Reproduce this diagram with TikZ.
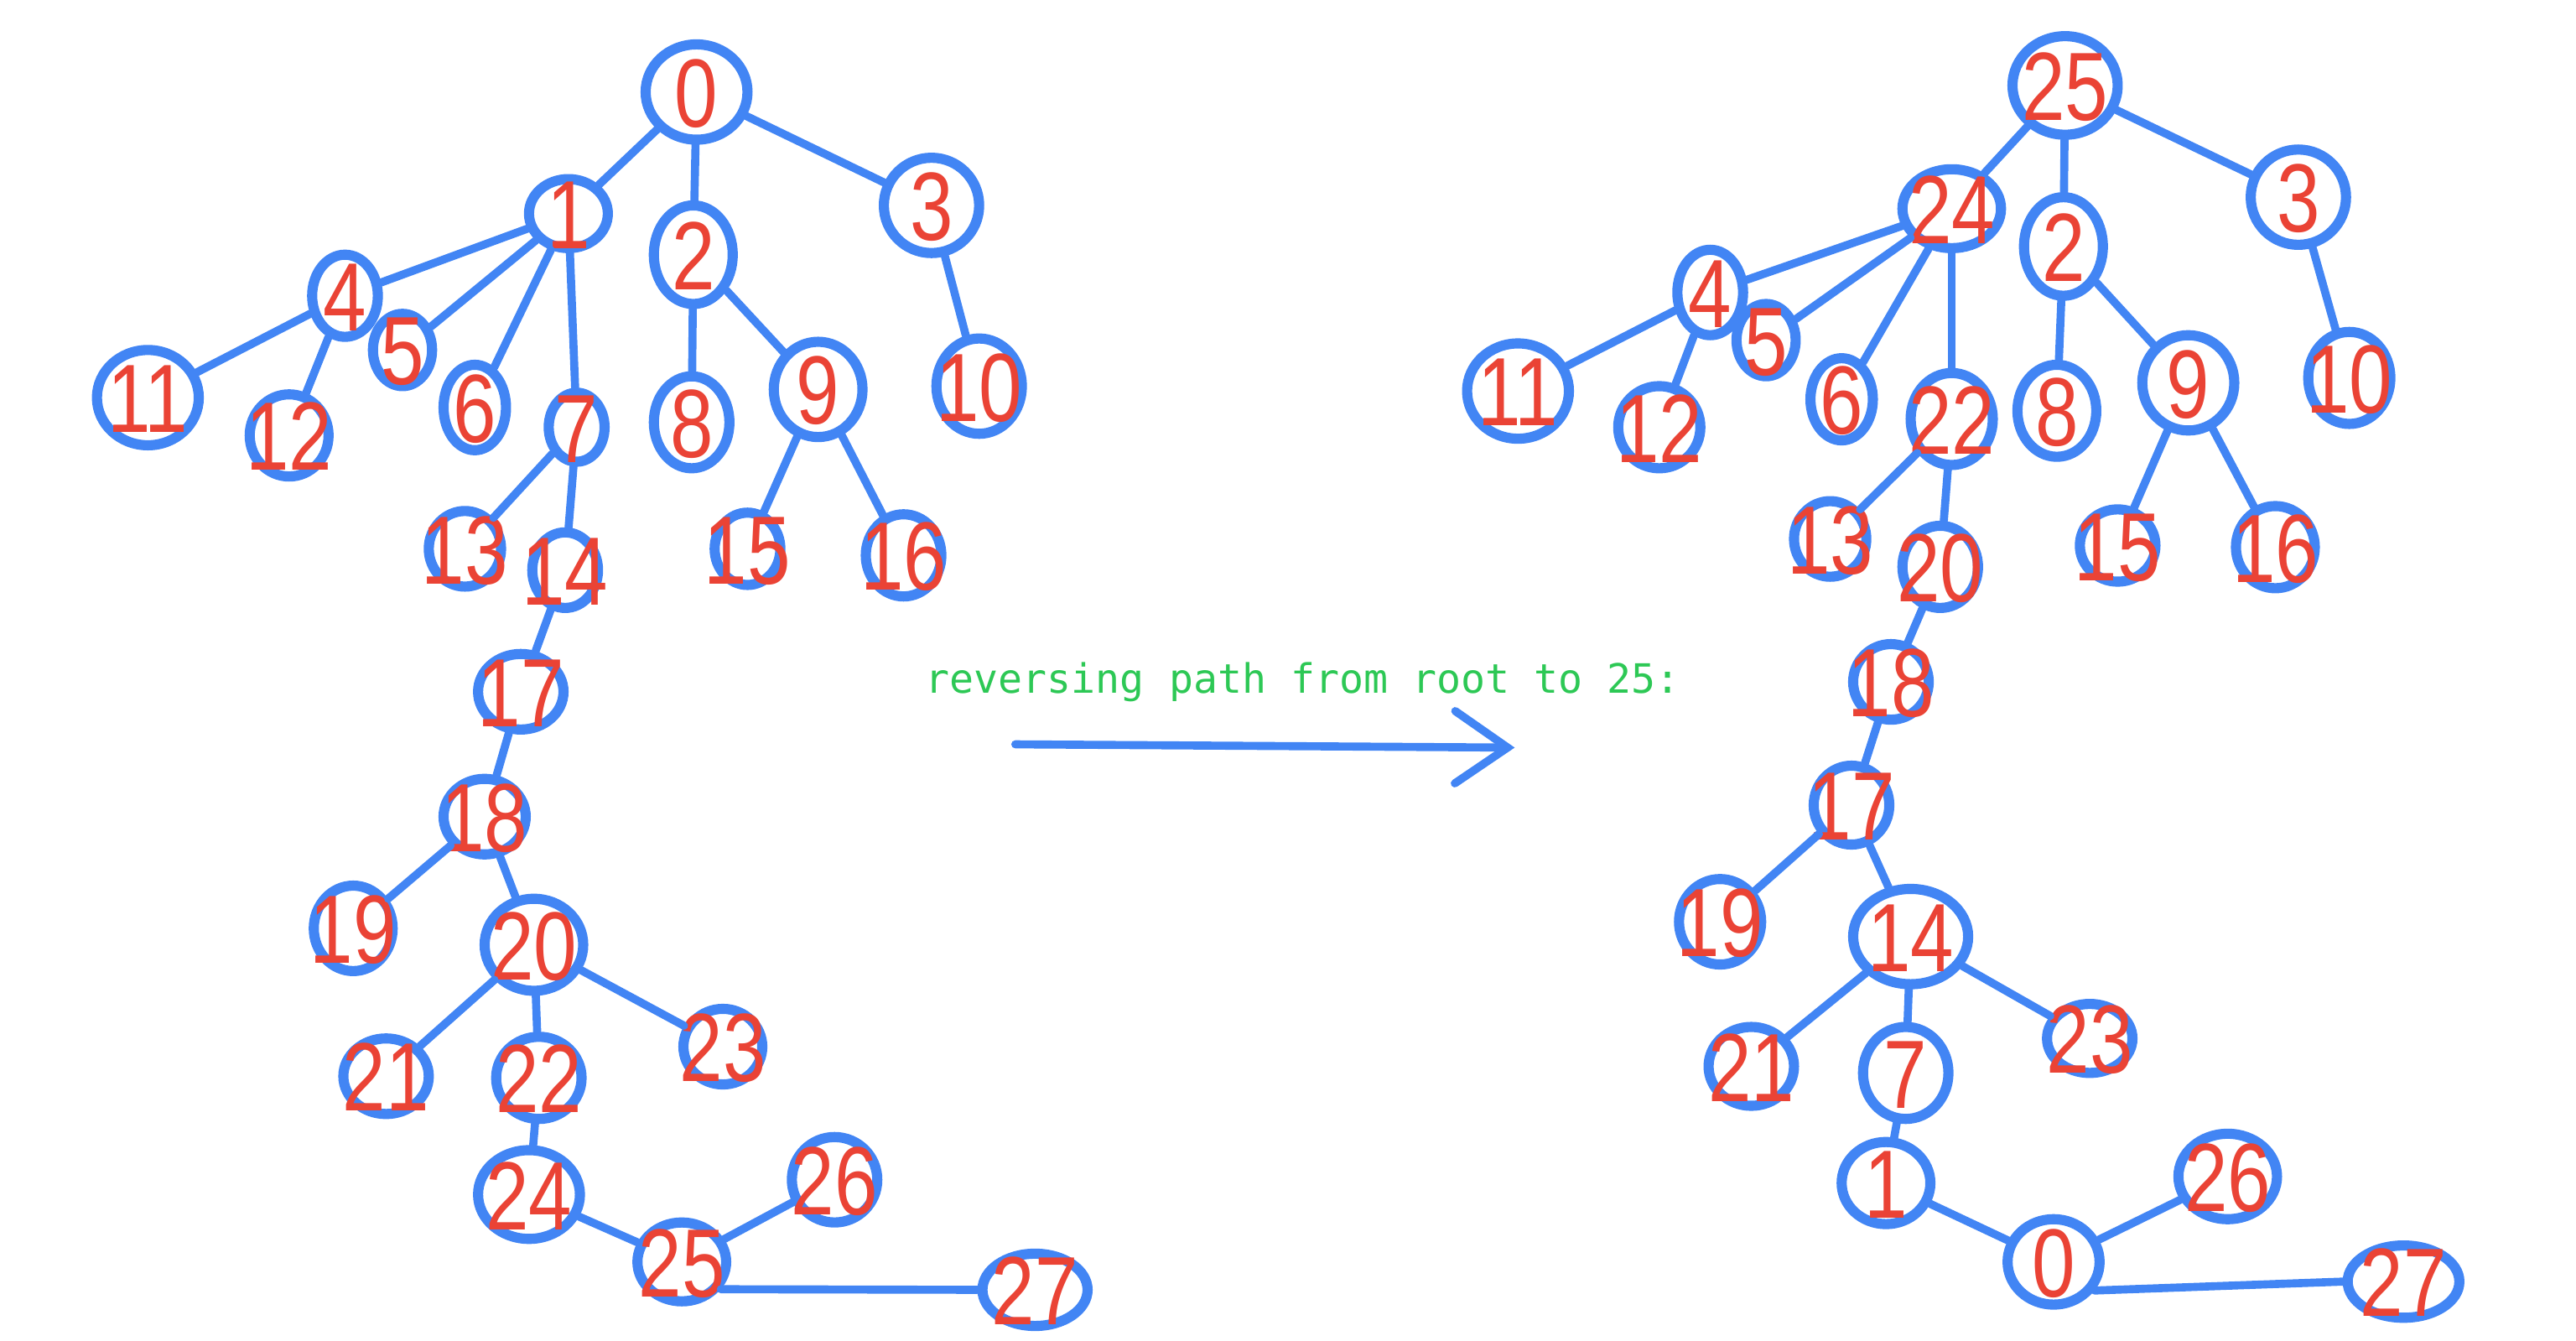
\documentclass[tikz,border=0pt]{standalone}
\usepackage{fontspec}
\usetikzlibrary{arrows.meta,shapes.geometric}
\newfontfamily\numfont[FakeStretch=0.8]{Liberation Sans}
\newfontfamily\notefont{DejaVu Sans Mono}
\definecolor{penBlue}{RGB}{66,133,244}
\definecolor{penRed}{RGB}{234,67,53}
\definecolor{penGreen}{RGB}{45,200,85}
% digits hang over the drawn rings, so they take no room
\newcommand\numtxt[1]{\makebox[0pt]{\raisebox{-.36em}[0pt][0pt]{#1}}}

\begin{document}
\begin{tikzpicture}[x=0.25mm,y=-0.25mm]
  \tikzset{vtx/.style={ellipse,draw=penBlue,line width=4.4pt,inner sep=0pt,text=penRed,
      font=\numfont\fontsize{42}{44}\selectfont},
    link/.style={draw=penBlue,line width=3.5pt,line cap=round}}
  \useasboundingbox (0,0) rectangle (1568,816);
  % tree before: root 0
  \foreach \n/\x/\y/\w/\h in {0/424/56/62/58, 1/346/130/48/42, 2/422/155/48/60,
      3/567/125/58/58, 4/210/180/40/50, 5/245/213/36/44, 6/289/248/38/52,
      7/351/260/34/42, 8/421/257/46/56, 9/498/237/54/58, 10/596/235/52/58,
      11/90/242/62/58, 12/176/265/48/50, 13/283/334/44/46, 14/344/347/40/46,
      15/455/334/40/44, 16/550/338/46/50, 17/317/421/52/46, 18/295/497/50/46,
      19/215/565/48/52, 20/325/575/60/56, 21/235/655/52/46, 22/328/656/52/50,
      23/440/637/48/46, 24/322/727/62/54, 25/415/768/54/48, 26/508/718/52/52,
      27/630/785/64/44}
    \node[vtx,minimum width=\w*0.25mm,minimum height=\h*0.25mm] (a\n) at (\x,\y) {\numtxt{\n}};
  \foreach \p/\c in {0/1, 0/2, 0/3, 1/4, 1/5, 1/6, 1/7, 2/8, 2/9, 3/10, 4/11, 4/12,
      7/13, 7/14, 9/15, 9/16, 14/17, 17/18, 18/19, 18/20, 20/21, 20/22, 20/23,
      22/24, 24/25, 25/26}
    \draw[link] (a\p) -- (a\c);
  \draw[link] (a25.-35) -- (a27.west);
  % tree after: root 25
  \foreach \n/\x/\y/\w/\h in {25/1257/52/64/60, 24/1188/127/60/48, 2/1256/150/48/60,
      3/1399/120/58/58, 4/1041/178/40/52, 5/1075/207/36/44, 6/1121/243/38/50,
      22/1188/255/50/56, 8/1252/250/48/56, 9/1332/233/56/58, 10/1430/230/50/56,
      11/924/238/62/58, 12/1010/260/50/50, 13/1114/328/44/46, 20/1181/345/46/50,
      15/1289/332/46/44, 16/1385/333/48/50, 18/1151/415/46/46, 17/1127/490/46/48,
      19/1047/561/50/52, 14/1163/570/70/58, 21/1066/649/52/48, 7/1160/653/52/56,
      23/1272/632/52/42, 1/1148/720/54/50, 0/1250/768/56/52, 26/1356/716/60/52,
      27/1463/780/68/44}
    \node[vtx,minimum width=\w*0.25mm,minimum height=\h*0.25mm] (b\n) at (\x,\y) {\numtxt{\n}};
  \foreach \p/\c in {25/24, 25/2, 25/3, 24/4, 24/5, 24/6, 24/22, 2/8, 2/9, 3/10,
      4/11, 4/12, 22/13, 22/20, 9/15, 9/16, 20/18, 18/17, 17/19, 17/14, 14/21,
      14/7, 14/23, 7/1, 1/0, 0/26}
    \draw[link] (b\p) -- (b\c);
  \draw[link] (b0.-35) -- (b27.west);
  % the arrow between
  \node[text=penGreen,font=\notefont\fontsize{17.5}{20}\selectfont] (note) at (793,415) {reversing path from root to 25:};
  \coordinate (arrS) at (618,453);
  \coordinate (arrE) at (922,455);
  \draw[link,-{Straight Barb[length=8mm,width=11mm,line cap=round]}] (arrS) -- (arrE);
\end{tikzpicture}
\end{document}
